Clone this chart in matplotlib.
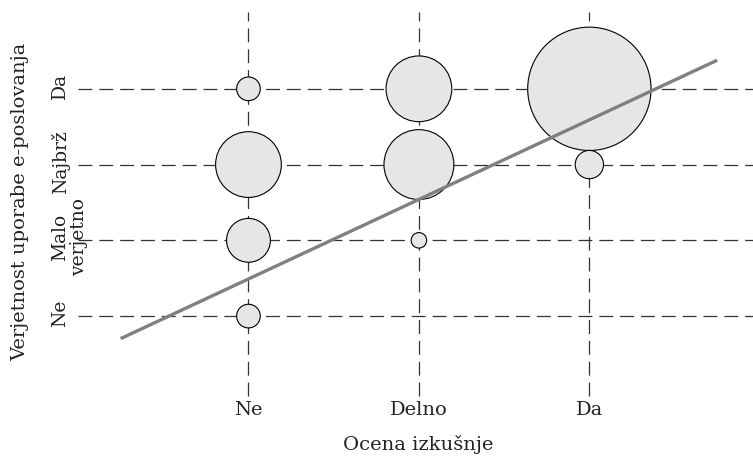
import numpy as np
import matplotlib
matplotlib.use('Agg')
import matplotlib.pyplot as plt
from matplotlib.transforms import blended_transform_factory, ScaledTranslation

plt.rcParams['font.family'] = 'DejaVu Serif'
plt.rcParams['lines.scale_dashes'] = False

# categories
x_labels = ['Ne', 'Delno', 'Da']
y_labels = ['Ne', 'Malo\nverjetno', 'Najbrž', 'Da']

# bubbles: (experience, likelihood, frequency)
bub_x = [1, 1, 1, 1, 2, 2, 2, 3, 3]
bub_y = [4, 3, 2, 1, 4, 3, 2, 4, 3]
bub_n = [7, 54, 24, 7, 54, 61, 3, 190, 10]

# regression line
reg_a = 0.44
reg_b = 1.05
reg_x = [0.25, 3.75]

fig = plt.figure(figsize=(7.53, 4.57), dpi=100)
ax = fig.add_axes([78 / 753, 0.126, 1 - 78 / 753, 0.862])
ax.set_xlim(0, 3.96)
ax.set_ylim(-0.1, 5.1)
ax.axis('off')

#grid
for i in range(len(x_labels)):
    ax.plot([i + 1, i + 1], [-0.05, 5.02], color='#333333', lw=0.9,
            dashes=(10, 5), zorder=1)
for j in range(len(y_labels)):
    ax.plot([0, 4], [j + 1, j + 1], color='#333333', lw=0.9,
            dashes=(10, 5), zorder=1)

ax.scatter(bub_x, bub_y, s=np.array(bub_n) * 41.5, facecolor='#e6e6e6',
           edgecolor='black', linewidth=0.8, zorder=2)

ry = [reg_a + reg_b * v for v in reg_x]
ax.plot(reg_x, ry, color='#808080', lw=2.4, solid_capstyle='butt', zorder=3)

# tick labels
tx = blended_transform_factory(ax.transData, fig.transFigure)
for i, lab in enumerate(x_labels):
    fig.text(i + 1, (457 - 410) / 457, lab, transform=tx, ha='center',
             va='center', fontsize=14, color='#222222')

ty = blended_transform_factory(fig.transFigure, ax.transData) + \
    ScaledTranslation(0, 0.03, fig.dpi_scale_trans)
for j, lab in enumerate(y_labels):
    fig.text(51 / 753, j + 1, lab, transform=ty, ha='left', va='center',
             rotation=90, multialignment='center', fontsize=13.5,
             color='#222222', linespacing=1.05)

fig.text(418 / 753, (457 - 444) / 457, 'Ocena izkušnje', ha='center',
         va='center', fontsize=14, color='#222222')
fig.text(20 / 753, (457 - 202) / 457, 'Verjetnost uporabe e-poslovanja',
         ha='center', va='center', rotation=90, fontsize=14,
         color='#222222')

fig.savefig('out.png', dpi=100)
